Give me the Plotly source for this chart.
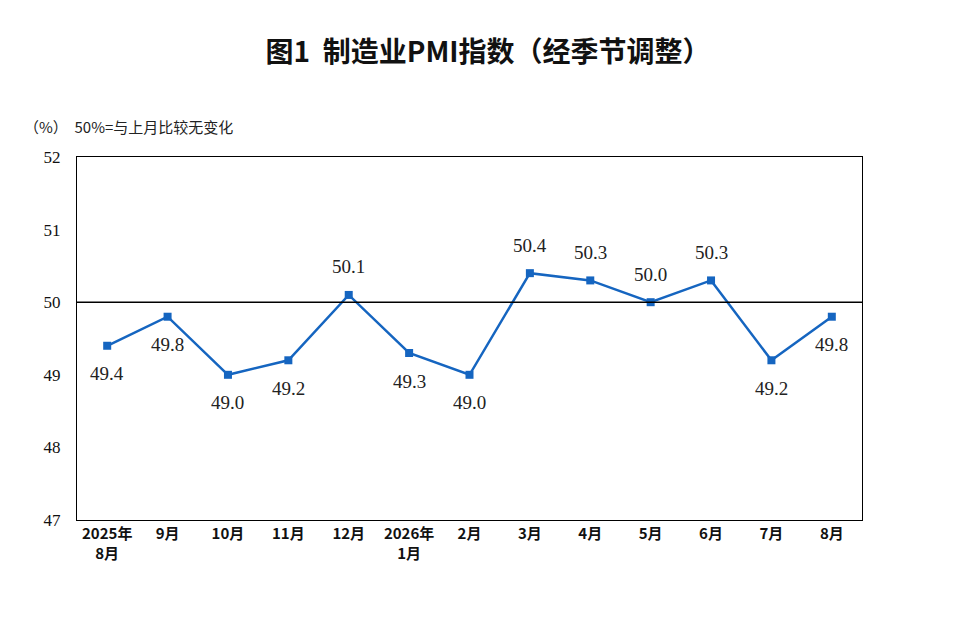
import plotly.graph_objects as go

months = ["2025年<br>8月", "9月", "10月", "11月", "12月", "2026年<br>1月", "2月", "3月", "4月", "5月", "6月", "7月", "8月"]
values = [49.4, 49.8, 49.0, 49.2, 50.1, 49.3, 49.0, 50.4, 50.3, 50.0, 50.3, 49.2, 49.8]
label_above = [False, False, False, False, True, False, False, True, True, True, True, False, False]

x = list(range(len(months)))
fig = go.Figure()
fig.add_trace(go.Scatter(
    x=x, y=values, mode="lines+markers",
    line=dict(color="#1565C0", width=2.5),
    marker=dict(symbol="square", size=8, color="#1565C0"),
    cliponaxis=False, hoverinfo="skip"))
fig.add_shape(type="line", xref="paper", x0=0, x1=1, y0=50, y1=50, line=dict(color="black", width=1.5))
ann = [dict(text="（%）  50%=与上月比较无变化", xref="paper", yref="paper", x=-0.07, y=1.085,
            xanchor="left", yanchor="middle", showarrow=False,
            font=dict(family="Noto Sans CJK SC", size=15, color="#222"))]
for xi, v, up in zip(x, values, label_above):
    ann.append(dict(x=xi, y=v, text=f"{v:.1f}", showarrow=False, yshift=28 if up else -28,
                    font=dict(family="Liberation Serif", size=19, color="#222")))
fig.update_layout(
    width=960, height=637, plot_bgcolor="white", paper_bgcolor="white",
    margin=dict(l=69, r=106, t=149, b=125), showlegend=False,
    title=dict(text="<b>图1  制造业PMI指数（经季节调整）</b>", x=0.5, xanchor="center", y=0.93, yanchor="middle",
               font=dict(family="Noto Sans CJK SC", size=28, color="#111")),
    annotations=ann)
fig.update_xaxes(range=[-0.5, 12.5], tickvals=x, ticktext=["<b>"+m.replace("<br>", "</b><br><b>")+"</b>" for m in months],
                 showline=True, linecolor="black", mirror=True, showgrid=False, ticks="",
                 tickfont=dict(family="Noto Sans CJK SC", size=15, color="#111"))
fig.update_yaxes(range=[47, 52], dtick=1, showline=True, linecolor="black", mirror=True, showgrid=False,
                 ticks="", ticklabelstandoff=12,
                 tickfont=dict(family="Liberation Serif", size=17, color="#111"))
fig.write_html("out.html")
